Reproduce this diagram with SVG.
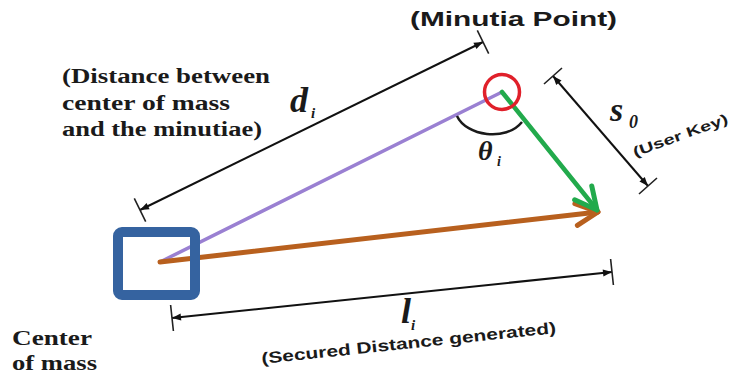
<svg xmlns="http://www.w3.org/2000/svg" width="735" height="380" viewBox="0 0 735 380" font-family="'Liberation Serif', serif">
<style>
.sansb{font-family:'Liberation Sans',Arial,sans-serif;font-weight:bold;fill:#1a1a1a}
.serifb{font-family:'Liberation Serif','Tinos','DejaVu Serif',serif;font-weight:bold;fill:#1a1a1a}
.math{font-family:'Liberation Serif','Tinos','DejaVu Serif',serif;font-style:italic;font-weight:bold;fill:#1a1a1a}
.dim{stroke:#111;stroke-width:2;fill:none}
.tick{stroke:#222;stroke-width:1.6;fill:none}
</style>
<defs>
<marker id="dimArrow" markerUnits="userSpaceOnUse" markerWidth="12" markerHeight="10" viewBox="-10 -5 12 10" refX="0" refY="0" orient="auto-start-reverse">
<path d="M-9,-3.5 L0,0 L-9,3.5 Z" fill="#111"/>
</marker>
<marker id="chevBrown" markerUnits="userSpaceOnUse" markerWidth="40" markerHeight="40" viewBox="-30 -20 40 40" refX="0" refY="0" orient="auto">
<path d="M-22,-11 L0,0 L-22,11" fill="none" stroke="#b8601e" stroke-width="5" stroke-linejoin="round" stroke-linecap="round"/>
</marker>
<marker id="chevGreen" markerUnits="userSpaceOnUse" markerWidth="40" markerHeight="40" viewBox="-30 -20 40 40" refX="0" refY="0" orient="auto">
<path d="M-22,-11 L0,0 L-22,11" fill="none" stroke="#22aa4c" stroke-width="5" stroke-linejoin="round" stroke-linecap="round"/>
</marker>
</defs>
<rect width="735" height="380" fill="#ffffff"/>
<g id="connectors">
<path class="dim" d="M140,210 L483,42" marker-start="url(#dimArrow)" marker-end="url(#dimArrow)"/>
<path class="tick" d="M134.3,198.3 L145.7,221.7 M477.3,30.3 L488.7,53.7"/>
<path class="dim" d="M553,76 L648,186" marker-start="url(#dimArrow)" marker-end="url(#dimArrow)"/>
<path class="tick" d="M544,84 L562,68 M639,194 L657,178"/>
<path class="dim" d="M172,318 L612,272" marker-start="url(#dimArrow)" marker-end="url(#dimArrow)"/>
<path class="tick" d="M170.6,305 L173.4,331 M610.6,259 L613.4,285"/>
<path d="M160,262 L502,92" stroke="#9a80d2" stroke-width="3.5" fill="none" stroke-linecap="round"/>
<path d="M160,262 L598,212" stroke="#b8601e" stroke-width="5" fill="none" stroke-linecap="round" marker-end="url(#chevBrown)"/>
<path d="M502,92 L597,210" stroke="#22aa4c" stroke-width="4.5" fill="none" stroke-linecap="round" marker-end="url(#chevGreen)"/>
<path d="M457,116 C466,136 506,142 522,122" stroke="#1a1a1a" stroke-width="2.5" fill="none"/>
</g>
<g id="center-of-mass">
<rect x="118" y="232" width="77" height="63" rx="4" fill="none" stroke="#3563a0" stroke-width="10"/>
<text class="serifb" font-size="21" x="12" y="345" textLength="80" lengthAdjust="spacingAndGlyphs">Center</text>
<text class="serifb" font-size="21" x="12" y="370" textLength="85" lengthAdjust="spacingAndGlyphs">of mass</text>
</g>
<g id="minutia-point">
<circle cx="502" cy="92" r="17.5" fill="none" stroke="#e0202a" stroke-width="3.5"/>
<text class="sansb" font-size="21" x="410" y="26" textLength="207" lengthAdjust="spacingAndGlyphs">(Minutia Point)</text>
</g>
<g id="distance-label">
<text class="serifb" font-size="20" x="62" y="83" textLength="208" lengthAdjust="spacingAndGlyphs">(Distance between</text>
<text class="serifb" font-size="20" x="62" y="110" textLength="168" lengthAdjust="spacingAndGlyphs">center of mass</text>
<text class="serifb" font-size="20" x="62" y="136" textLength="200" lengthAdjust="spacingAndGlyphs">and the minutiae)</text>
<text class="math" font-size="36" x="290" y="112">d</text>
<text class="math" font-size="15" x="311" y="118">i</text>
</g>
<g id="angle-label">
<text class="math" font-size="28" x="478" y="160">θ</text>
<text class="math" font-size="14" x="497" y="166">i</text>
</g>
<g id="user-key-label">
<text class="math" font-size="34" x="610" y="121">s</text>
<text class="math" font-size="18" x="629" y="128">0</text>
<text class="sansb" font-size="14" transform="translate(635,157) rotate(-20)" textLength="100" lengthAdjust="spacingAndGlyphs">(User Key)</text>
</g>
<g id="secured-distance-label">
<text class="math" font-size="36" x="401" y="323">l</text>
<text class="math" font-size="15" x="411" y="330">i</text>
<text class="sansb" font-size="16" transform="translate(262,364) rotate(-6)" textLength="296" lengthAdjust="spacingAndGlyphs">(Secured Distance generated)</text>
</g>
</svg>
